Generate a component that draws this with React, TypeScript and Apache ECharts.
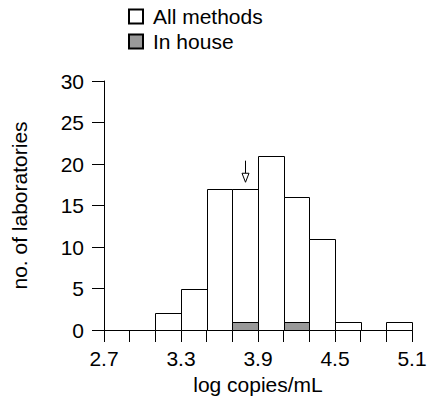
import React, { useEffect, useRef } from "react";
import * as echarts from "echarts";

const binEdges = ["2.7", "2.9", "3.1", "3.3", "3.5", "3.7", "3.9", "4.1", "4.3", "4.5", "4.7", "4.9", "5.1"];
const allMethods = [0, 0, 2, 5, 17, 17, 21, 16, 11, 1, 0, 1];
const inHouse = [0, 0, 0, 0, 0, 1, 0, 1, 0, 0, 0, 0];
const yTicks = [0, 5, 10, 15, 20, 25, 30];
const arrowX = 3.8;
const arrowTop = 20.4;
const arrowTip = 17.8;

const FONT = "'Liberation Sans', Arial, Helvetica, sans-serif";
const FS = 21;

function makeRender(fill: string) {
  return (params: any, api: any) => {
    const i = params.dataIndex;
    const v = api.value(1);
    if (v <= 0) return null;
    const p0 = api.coord([i, 0]);
    const p1 = api.coord([i + 1, v]);
    const x0 = Math.round(p0[0]) + 0.5;
    const x1 = Math.round(p1[0]) + 0.5;
    const y0 = Math.round(p0[1]) + 0.5;
    const y1 = Math.round(p1[1]) + 0.5;
    return {
      type: "rect",
      shape: { x: x0, y: y1, width: x1 - x0, height: y0 - y1 },
      style: { fill, stroke: "#000", lineWidth: 1 },
    };
  };
}

export default function App() {
  const ref = useRef<HTMLDivElement>(null);
  useEffect(() => {
    if (!ref.current) return;
    const chart = echarts.init(ref.current, null, { renderer: "svg" });
    const e0 = parseFloat(binEdges[0]);
    const step = parseFloat(binEdges[1]) - e0;
    const arrowIdx = (arrowX - e0) / step;
    chart.setOption({
      animation: false,
      backgroundColor: "#fff",
      textStyle: { fontFamily: FONT },
      legend: {
        orient: "vertical",
        left: 128,
        top: 6,
        padding: 0,
        itemWidth: 14,
        itemHeight: 14,
        itemGap: 4,
        icon: "rect",
        textStyle: { fontSize: FS, color: "#000", fontFamily: FONT, padding: [0, 0, 0, 5] },
        data: ["All methods", "In house"],
      },
      grid: { left: 104, right: 18, top: 81, bottom: 66, outerBoundsMode: "none" },
      xAxis: {
        type: "category",
        data: binEdges,
        boundaryGap: false,
        axisLine: { show: true, lineStyle: { color: "#000", width: 1 } },
        axisTick: { show: true, interval: 0, length: 12, lineStyle: { color: "#000" } },
        axisLabel: { interval: 2, margin: 18, fontSize: FS, color: "#000", fontFamily: FONT },
        splitLine: { show: false },
        name: "log copies/mL",
        nameLocation: "middle",
        nameGap: 35,
        nameTextStyle: { fontSize: FS, color: "#000", fontFamily: FONT },
      },
      yAxis: {
        type: "value",
        min: yTicks[0],
        max: yTicks[yTicks.length - 1],
        interval: yTicks[1] - yTicks[0],
        axisLine: { show: true, lineStyle: { color: "#000", width: 1 } },
        axisTick: { show: true, length: 12, lineStyle: { color: "#000" } },
        axisLabel: { margin: 20, fontSize: FS, color: "#000", fontFamily: FONT },
        splitLine: { show: false },
        name: "no. of laboratories",
        nameLocation: "middle",
        nameGap: 74,
        nameTextStyle: { fontSize: FS, color: "#000", fontFamily: FONT },
      },
      series: [
        {
          name: "All methods",
          type: "custom",
          renderItem: makeRender("#ffffff"),
          itemStyle: { color: "#ffffff", borderColor: "#000", borderWidth: 1 },
          data: allMethods.map((v, i) => [i, v]),
          z: 2,
        },
        {
          name: "In house",
          type: "custom",
          renderItem: makeRender("#999999"),
          itemStyle: { color: "#999999", borderColor: "#000", borderWidth: 1 },
          data: inHouse.map((v, i) => [i, v]),
          z: 3,
        },
        {
          name: "arrow",
          type: "custom",
          silent: true,
          data: [[arrowIdx, arrowTop, arrowTip]],
          renderItem: (params: any, api: any) => {
            const idx = api.value(0);
            const lo = Math.floor(idx);
            const frac = idx - lo;
            const a = api.coord([lo, api.value(1)]);
            const b = api.coord([lo + 1, api.value(1)]);
            const tip = api.coord([lo, api.value(2)]);
            const x = Math.round(a[0] + (b[0] - a[0]) * frac) + 0.5;
            const headH = 9;
            const headW = 3.5;
            return {
              type: "group",
              children: [
                {
                  type: "line",
                  shape: { x1: x, y1: a[1], x2: x, y2: tip[1] - headH },
                  style: { stroke: "#000", lineWidth: 1 },
                },
                {
                  type: "polygon",
                  shape: {
                    points: [
                      [x - headW, tip[1] - headH],
                      [x + headW, tip[1] - headH],
                      [x, tip[1]],
                    ],
                  },
                  style: { fill: "#fff", stroke: "#000", lineWidth: 1 },
                },
              ],
            };
          },
          z: 4,
        },
      ],
    });
    return () => chart.dispose();
  }, []);
  return <div ref={ref} style={{ width: 430, height: 396, position: "absolute", left: 0, top: 0 }} />;
}
